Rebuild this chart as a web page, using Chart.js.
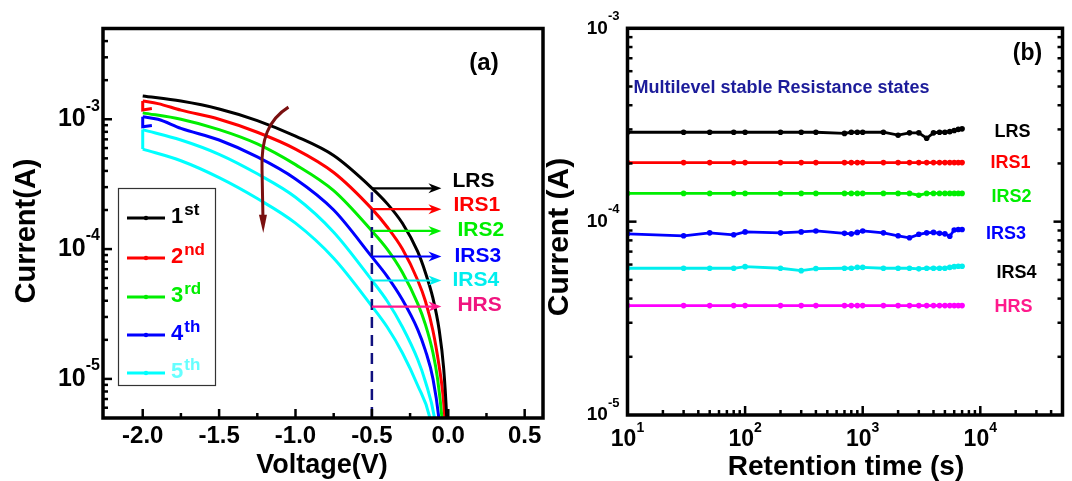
<!DOCTYPE html>
<html><head><meta charset="utf-8">
<script src="https://cdn.jsdelivr.net/npm/chart.js@4.4.1/dist/chart.umd.min.js"></script>
<style>
html,body{margin:0;padding:0;background:#fff;}
#wrap{position:relative;width:1072px;height:481px;overflow:hidden;background:#fff;}
#ca{position:absolute;left:0;top:0;}
#cb{position:absolute;left:540px;top:0;}
</style></head><body>
<div id="wrap"><canvas id="ca" width="550" height="481"></canvas><canvas id="cb" width="532" height="481"></canvas></div>
<script>
// ================= DATA =================
// Panel (a): I–V sweeps (Voltage in V, Current in A)
const v1st = [-2.0,-1.75,-1.5,-1.25,-1.0,-0.75,-0.5,-0.4,-0.3,-0.2,-0.15,-0.1,-0.06,-0.03,-0.01,0.0];
const i1st = [1.51e-3,1.38e-3,1.20e-3,9.77e-4,7.41e-4,5.25e-4,2.95e-4,2.24e-4,1.58e-4,9.55e-5,6.61e-5,4.17e-5,2.40e-5,1.20e-5,5.0e-6,2.5e-6];

const v2nd = [-2.0,-1.9,-1.75,-1.5,-1.25,-1.0,-0.75,-0.5,-0.4,-0.3,-0.2,-0.15,-0.1,-0.06,-0.035,-0.02,-0.01];
const i2nd = [1.38e-3,1.32e-3,1.175e-3,1.0e-3,7.94e-4,5.89e-4,3.89e-4,2.04e-4,1.48e-4,1.0e-4,5.75e-5,3.98e-5,2.34e-5,1.26e-5,7.6e-6,4.5e-6,2.5e-6];
const v2ndTurn = [-1.94,-2.0,-2.0];
const i2ndTurn = [1.21e-3,1.18e-3,1.38e-3];

const v3rd = [-2.0,-1.75,-1.5,-1.25,-1.0,-0.75,-0.5,-0.4,-0.3,-0.2,-0.15,-0.1,-0.07,-0.04,-0.025];
const i3rd = [1.12e-3,1.0e-3,8.32e-4,6.46e-4,4.47e-4,2.82e-4,1.38e-4,1.0e-4,6.61e-5,3.80e-5,2.63e-5,1.585e-5,1.0e-5,4.8e-6,2.5e-6];

const v4th = [-2.0,-1.9,-1.75,-1.5,-1.25,-1.0,-0.75,-0.5,-0.4,-0.3,-0.2,-0.15,-0.1,-0.06,-0.04];
const i4th = [1.047e-3,1.0e-3,8.51e-4,6.92e-4,5.13e-4,3.47e-4,2.0e-4,8.71e-5,6.17e-5,4.07e-5,2.40e-5,1.66e-5,1.0e-5,4.8e-6,2.5e-6];
const v4thTurn = [-1.94,-2.0,-2.0];
const i4thTurn = [8.95e-4,8.75e-4,1.047e-3];

// 5th sweep: two well separated branches (IRS4 upper, HRS lower) joined at -2 V
const v5up = [-2.0,-1.75,-1.5,-1.25,-1.0,-0.75,-0.5,-0.4,-0.3,-0.2,-0.15,-0.09,-0.06];
const i5up = [8.32e-4,6.92e-4,5.37e-4,3.80e-4,2.51e-4,1.35e-4,5.75e-5,3.98e-5,2.51e-5,1.41e-5,9.55e-6,5.0e-6,2.5e-6];
const v5down = [-2.0,-1.75,-1.5,-1.25,-1.0,-0.75,-0.5,-0.4,-0.3,-0.2,-0.12,-0.08];
const i5down = [5.89e-4,4.79e-4,3.55e-4,2.45e-4,1.585e-4,8.51e-5,3.63e-5,2.51e-5,1.585e-5,8.9e-6,5.0e-6,2.5e-6];
const v5Turn = [-2.0,-2.0];
const i5Turn = [8.32e-4,5.89e-4];

const sweepNames = ['1st','2nd','3rd','4th','5th'];
const stateNames = ['LRS','IRS1','IRS2','IRS3','IRS4','HRS'];
const readVoltage = -0.5;
const stateReadA = [2.94e-4,2.03e-4,1.38e-4,8.77e-5,5.73e-5,3.61e-5];
const brownArrowPath = [[-1.046,1.24e-3],[-1.18,9.9e-4],[-1.226,6.93e-4],[-1.219,4.07e-4],[-1.213,1.74e-4],[-1.211,1.33e-4]];

// Panel (a) axis ticks
const xTicksA = [-2.0,-1.5,-1.0,-0.5,0.0,0.5];
const xMinorA = [-1.75,-1.25,-0.75,-0.25,0.25];
const yTickExpA = [-3,-4,-5];

// Panel (b): retention
const retentionTime = [10,30,50,80,100,200,300,400,700,800,900,1000,1500,2000,2500,3000,3500,4000,4500,5000,5500,6000,6500,7000];
const lrs  = [2.90e-4,2.90e-4,2.90e-4,2.90e-4,2.90e-4,2.90e-4,2.90e-4,2.90e-4,2.86e-4,2.90e-4,2.90e-4,2.90e-4,2.90e-4,2.80e-4,2.88e-4,2.88e-4,2.70e-4,2.88e-4,2.90e-4,2.90e-4,2.92e-4,2.96e-4,3.00e-4,3.02e-4];
const irs1 = [2.02e-4,2.02e-4,2.02e-4,2.02e-4,2.02e-4,2.02e-4,2.02e-4,2.02e-4,2.02e-4,2.02e-4,2.02e-4,2.02e-4,2.02e-4,2.02e-4,2.02e-4,2.02e-4,2.02e-4,2.02e-4,2.02e-4,2.02e-4,2.02e-4,2.02e-4,2.02e-4,2.02e-4];
const irs2 = [1.40e-4,1.40e-4,1.40e-4,1.40e-4,1.40e-4,1.40e-4,1.40e-4,1.40e-4,1.40e-4,1.40e-4,1.40e-4,1.40e-4,1.40e-4,1.40e-4,1.40e-4,1.37e-4,1.40e-4,1.40e-4,1.40e-4,1.40e-4,1.40e-4,1.40e-4,1.40e-4,1.40e-4];
const irs3 = [8.65e-5,8.45e-5,8.75e-5,8.55e-5,8.85e-5,8.75e-5,8.85e-5,8.95e-5,8.70e-5,8.65e-5,8.80e-5,8.95e-5,8.75e-5,8.45e-5,8.25e-5,8.60e-5,8.75e-5,8.80e-5,8.70e-5,8.65e-5,8.40e-5,9.05e-5,9.10e-5,9.10e-5];
const irs4 = [5.74e-5,5.74e-5,5.74e-5,5.74e-5,5.85e-5,5.74e-5,5.58e-5,5.72e-5,5.74e-5,5.74e-5,5.80e-5,5.80e-5,5.74e-5,5.74e-5,5.74e-5,5.70e-5,5.74e-5,5.74e-5,5.74e-5,5.74e-5,5.80e-5,5.85e-5,5.88e-5,5.88e-5];
const hrs  = [3.68e-5,3.68e-5,3.68e-5,3.68e-5,3.68e-5,3.68e-5,3.68e-5,3.68e-5,3.68e-5,3.68e-5,3.68e-5,3.68e-5,3.68e-5,3.68e-5,3.68e-5,3.68e-5,3.68e-5,3.68e-5,3.68e-5,3.68e-5,3.68e-5,3.68e-5,3.68e-5,3.68e-5];
const xTickExpB = [1,2,3,4];
const yTickExpB = [-3,-4,-5];

// ================= STYLE =================
const FONT = "'Liberation Sans', Arial, Helvetica, sans-serif";
const bf = s => `bold ${s}px ${FONT}`;
const sweepColors = ['#000000','#ff0000','#00ee00','#0000ff','#00ffff'];
const legendTextColors = ['#000000','#ff0000','#00ee00','#0000ff','#66ffff'];
const sweepSup = ['st','nd','rd','th','th'];
const arrowColorsA = ['#000000','#ff0000','#00ee00','#0000ff','#00eeee','#ff1a8c'];
const labelColorsA = ['#000000','#ff0000','#00ee00','#0000ff','#00eeee','#f0147f'];
const labelDyA = [-7,-4,-1,0,0,-1];
const labelDxA = [0,1,5,2,0,5];
const seriesColorsB = ['#000000','#ff0000','#00ee00','#0000ff','#00eeee','#ff00ff'];
const labelColorsB = ['#000000','#ff0000','#00ee00','#0000ff','#000000','#ff1a8c'];
const labelDyB = [-0.6,0.6,4,0.7,5,1];
const labelDxB = [0,-2,-1,-6.5,4,1];

const zip = (xs, ys) => xs.map((x,k) => ({x, y: ys[k]}));

function logTicks(min, max){
  const out = [];
  for (let e = Math.floor(Math.log10(min)); e <= Math.ceil(Math.log10(max)); e++){
    for (let m = 1; m <= 9; m++){
      const v = m * Math.pow(10, e);
      if (v > min*1.001 && v < max*0.999) out.push({v, major: m === 1});
    }
  }
  return out;
}
function seg(ctx, x0, y0, x1, y1){ ctx.beginPath(); ctx.moveTo(x0,y0); ctx.lineTo(x1,y1); ctx.stroke(); }
function powRight(ctx, base, exp, xr, y, bs, es, rise){
  ctx.textBaseline = 'middle'; ctx.textAlign = 'left';
  ctx.font = bf(es); const we = ctx.measureText(exp).width;
  ctx.font = bf(bs); const wb = ctx.measureText(base).width;
  ctx.fillText(base, xr - we - wb, y);
  ctx.font = bf(es); ctx.fillText(exp, xr - we, y - rise);
}
function powCenter(ctx, base, exp, xc, y, bs, es, rise){
  ctx.textBaseline = 'middle'; ctx.textAlign = 'left';
  ctx.font = bf(es); const we = ctx.measureText(exp).width;
  ctx.font = bf(bs); const wb = ctx.measureText(base).width;
  const x0 = xc - (wb + we)/2;
  ctx.fillText(base, x0, y);
  ctx.font = bf(es); ctx.fillText(exp, x0 + wb, y - rise);
}
function hArrow(ctx, x0, x1, y, color){
  ctx.strokeStyle = color; ctx.fillStyle = color; ctx.lineWidth = 2.2;
  seg(ctx, x0, y, x1 - 8, y);
  ctx.beginPath(); ctx.moveTo(x1, y); ctx.lineTo(x1 - 13, y - 5); ctx.lineTo(x1 - 9, y); ctx.lineTo(x1 - 13, y + 5); ctx.closePath(); ctx.fill();
}

// ================= PANEL (a) =================
const panelA = {
  id: 'panelA',
  afterDatasetsDraw(chart){
    const {ctx, chartArea: a, scales: {x, y}} = chart;
    ctx.save();
    // dashed read line
    const xd = x.getPixelForValue(readVoltage);
    ctx.strokeStyle = '#10107f'; ctx.lineWidth = 2.5; ctx.setLineDash([11,7]);
    seg(ctx, xd, a.bottom, xd, y.getPixelForValue(stateReadA[0]) + 4);
    ctx.setLineDash([]);
    // arrows + labels
    const xe = x.getPixelForValue(-0.045);
    stateNames.forEach((n,k) => {
      const yy = y.getPixelForValue(stateReadA[k]);
      hArrow(ctx, xd, xe, yy, arrowColorsA[k]);
      ctx.fillStyle = labelColorsA[k]; ctx.font = bf(21); ctx.textAlign = 'left'; ctx.textBaseline = 'middle';
      ctx.fillText(n, xe + 11 + labelDxA[k], yy + labelDyA[k]);
    });
    // brown curved arrow
    const P = brownArrowPath.map(([v,i]) => [x.getPixelForValue(v), y.getPixelForValue(i)]);
    ctx.strokeStyle = '#7a1010'; ctx.fillStyle = '#7a1010'; ctx.lineWidth = 3;
    ctx.beginPath(); ctx.moveTo(P[0][0],P[0][1]);
    ctx.bezierCurveTo(P[1][0],P[1][1],P[2][0],P[2][1],P[3][0],P[3][1]);
    ctx.lineTo(P[4][0],P[4][1]); ctx.stroke();
    ctx.beginPath(); ctx.moveTo(P[5][0],P[5][1]); ctx.lineTo(P[4][0]-4,P[4][1]-3); ctx.lineTo(P[4][0]+4,P[4][1]-3); ctx.closePath(); ctx.fill();
    // legend box
    ctx.strokeStyle = '#333'; ctx.lineWidth = 1.2;
    ctx.strokeRect(118.5, 188.5, 97, 197);
    const ly = [218, 258, 297, 335, 373];
    sweepNames.forEach((n,k) => {
      ctx.strokeStyle = sweepColors[k]; ctx.lineWidth = 3.2;
      seg(ctx, 127, ly[k], 165, ly[k]);
      ctx.fillStyle = sweepColors[k]; ctx.beginPath(); ctx.arc(146, ly[k], 2.2, 0, Math.PI*2); ctx.fill();
      ctx.fillStyle = legendTextColors[k]; ctx.textAlign = 'left'; ctx.textBaseline = 'alphabetic';
      ctx.font = bf(22); const num = n.charAt(0); ctx.fillText(num, 171, ly[k] + 5);
      const w = ctx.measureText(num).width;
      ctx.font = bf(17); ctx.fillText(sweepSup[k], 171 + w + 1, ly[k] - 3);
    });
    // ticks
    ctx.strokeStyle = '#000'; ctx.lineWidth = 2.5;
    for (const t of logTicks(y.min, y.max)){
      const py = y.getPixelForValue(t.v);
      seg(ctx, a.left, py, a.left + (t.major ? 9 : 5), py);
    }
    xTicksA.forEach(v => { const px = x.getPixelForValue(v); seg(ctx, px, a.bottom, px, a.bottom - 9); });
    xMinorA.forEach(v => { const px = x.getPixelForValue(v); seg(ctx, px, a.bottom, px, a.bottom - 5); });
    // frame
    ctx.lineWidth = 3.5; ctx.strokeRect(a.left, a.top, a.right - a.left, a.bottom - a.top);
    // tick labels
    ctx.fillStyle = '#000';
    yTickExpA.forEach(e => powRight(ctx, '10', String(e), a.left - 3, y.getPixelForValue(Math.pow(10,e)), 25, 16, 13));
    ctx.font = bf(24); ctx.textAlign = 'center'; ctx.textBaseline = 'middle';
    xTicksA.forEach(v => ctx.fillText(v.toFixed(1), x.getPixelForValue(v), 436));
    // titles
    ctx.font = bf(27); ctx.fillText('Voltage(V)', 322, 466);
    ctx.save(); ctx.translate(27, 231); ctx.rotate(-Math.PI/2); ctx.font = bf(29); ctx.fillText('Current(A)', 0, 0); ctx.restore();
    ctx.font = bf(24); ctx.fillText('(a)', 484, 63);
    ctx.restore();
  }
};

const curveA = (label, xs, ys, color, smooth) => ({
  label, data: zip(xs, ys), borderColor: color, backgroundColor: color, borderWidth: 3,
  pointRadius: 0, fill: false, tension: smooth ? 0.4 : 0, cubicInterpolationMode: smooth ? 'monotone' : 'default'
});
const dsA = [
  curveA('1st', v1st, i1st, sweepColors[0], true),
  curveA('2nd', v2nd, i2nd, sweepColors[1], true),
  curveA('2nd turn', v2ndTurn, i2ndTurn, sweepColors[1], false),
  curveA('3rd', v3rd, i3rd, sweepColors[2], true),
  curveA('4th', v4th, i4th, sweepColors[3], true),
  curveA('4th turn', v4thTurn, i4thTurn, sweepColors[3], false),
  curveA('5th (IRS4 branch)', v5up, i5up, sweepColors[4], true),
  curveA('5th (HRS branch)', v5down, i5down, sweepColors[4], true),
  curveA('5th turn', v5Turn, i5Turn, sweepColors[4], false)
];

new Chart(document.getElementById('ca'), {
  type: 'line',
  data: {datasets: dsA},
  options: {
    responsive: false, animation: false, devicePixelRatio: 1,
    layout: {padding: {left: 103, top: 28.5, right: 7, bottom: 63}},
    plugins: {legend: {display: false}, tooltip: {enabled: false}},
    scales: {
      x: {type: 'linear', min: -2.26, max: 0.62, display: false},
      y: {type: 'logarithmic', min: 5e-6, max: 5e-3, display: false}
    }
  },
  plugins: [panelA]
});

// ================= PANEL (b) =================
const panelB = {
  id: 'panelB',
  afterDatasetsDraw(chart){
    const {ctx, chartArea: a, scales: {x, y}} = chart;
    ctx.save();
    ctx.strokeStyle = '#000'; ctx.lineWidth = 2.5;
    for (const t of logTicks(y.min, y.max)){
      const py = y.getPixelForValue(t.v); const L = t.major ? 9 : 5;
      seg(ctx, a.left, py, a.left + L, py); seg(ctx, a.right, py, a.right - L, py);
    }
    for (const t of logTicks(x.min, x.max)){
      const px = x.getPixelForValue(t.v); seg(ctx, px, a.bottom, px, a.bottom - (t.major ? 9 : 5));
    }
    ctx.lineWidth = 3.5; ctx.strokeRect(a.left, a.top, a.right - a.left, a.bottom - a.top);
    ctx.fillStyle = '#000';
    yTickExpB.forEach(e => powRight(ctx, '10', String(e), a.left - 8, y.getPixelForValue(Math.pow(10,e)), 19, 13, 12));
    xTickExpB.forEach(e => powCenter(ctx, '10', String(e), x.getPixelForValue(Math.pow(10,e)), 440, 23, 14, 12));
    ctx.textAlign = 'center'; ctx.textBaseline = 'middle';
    ctx.font = bf(28); ctx.fillText('Retention time (s)', 306, 467);
    ctx.save(); ctx.translate(19.5, 237); ctx.rotate(-Math.PI/2); ctx.font = bf(30); ctx.fillText('Current (A)', 0, 0); ctx.restore();
    ctx.font = bf(23); ctx.fillText('(b)', 487.5, 54);
    ctx.fillStyle = '#1c1c9a'; ctx.font = bf(18); ctx.textAlign = 'left';
    ctx.fillText('Multilevel stable Resistance states', 93.5, 88.5);
    const series = [lrs, irs1, irs2, irs3, irs4, hrs];
    stateNames.forEach((n,k) => {
      ctx.fillStyle = labelColorsB[k]; ctx.font = bf(18); ctx.textAlign = 'center';
      ctx.fillText(n, a.right - 50 + labelDxB[k], y.getPixelForValue(series[k][0]) + labelDyB[k]);
    });
    ctx.restore();
  }
};

const dsB = [lrs, irs1, irs2, irs3, irs4, hrs].map((s,k) => ({
  label: stateNames[k], data: zip(retentionTime, s), borderColor: seriesColorsB[k], backgroundColor: seriesColorsB[k],
  borderWidth: 2.8, pointRadius: 2.8, pointBorderWidth: 0, pointStyle: 'circle', tension: 0, fill: false
}));

new Chart(document.getElementById('cb'), {
  type: 'line',
  data: {datasets: dsB},
  options: {
    responsive: false, animation: false, devicePixelRatio: 1,
    layout: {padding: {left: 87.5, top: 28.3, right: 9.5, bottom: 66}},
    plugins: {legend: {display: false}, tooltip: {enabled: false}},
    scales: {
      x: {type: 'logarithmic', min: 10, max: 5e4, display: false},
      y: {type: 'logarithmic', min: 1e-5, max: 1e-3, display: false}
    }
  },
  plugins: [panelB]
});
</script></body></html>
